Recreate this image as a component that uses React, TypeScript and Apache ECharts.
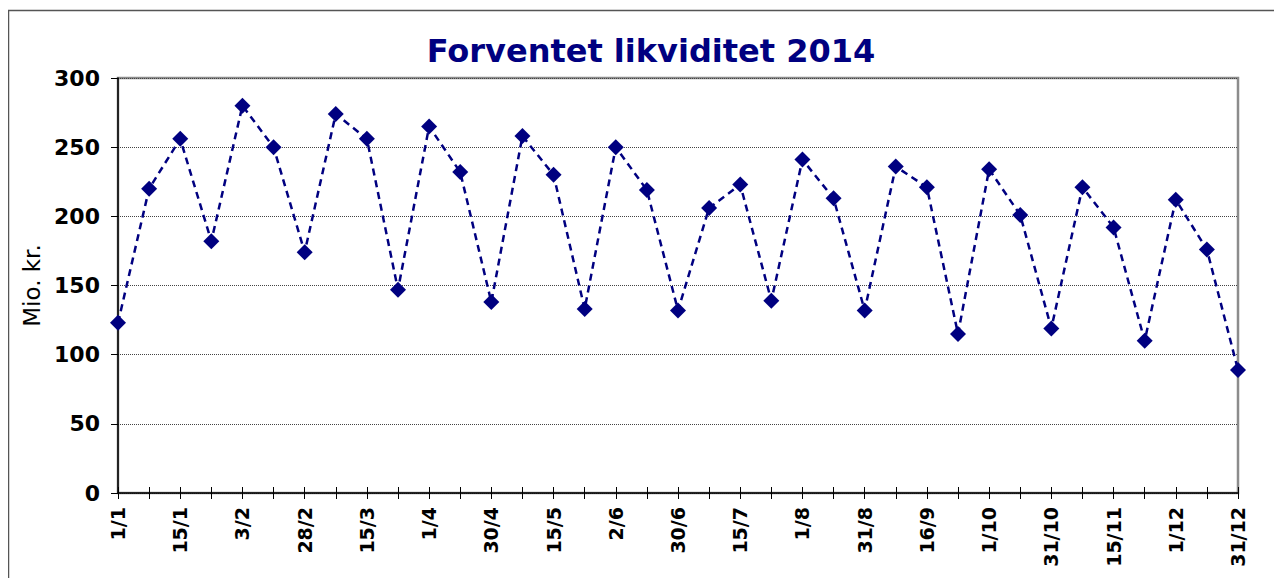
import React, { useEffect, useRef } from "react";
import * as echarts from "echarts";

const tickLabels = ["1/1", "15/1", "3/2", "28/2", "15/3", "1/4", "30/4", "15/5", "2/6", "30/6", "15/7", "1/8", "31/8", "16/9", "1/10", "31/10", "15/11", "1/12", "31/12"];

const values = [
  123, 220, 256, 182, 280, 250, 174, 274, 256, 147,
  265, 232, 138, 258, 230, 133, 250, 219, 132, 206,
  223, 139, 241, 213, 132, 236, 221, 115, 234, 201,
  119, 221, 192, 110, 212, 176, 89,
];

const yTicks = [0, 50, 100, 150, 200, 250, 300];

const categories: string[] = [];
tickLabels.forEach((l, i) => {
  categories.push(l);
  if (i < tickLabels.length - 1) categories.push("");
});

const FONT = "'DejaVu Sans', Verdana, sans-serif";

export default function App() {
  const ref = useRef<HTMLDivElement>(null);
  useEffect(() => {
    if (!ref.current) return;
    const chart = echarts.init(ref.current, null, { renderer: "svg" });
    chart.setOption({
      animation: false,
      backgroundColor: "#ffffff",
      title: {
        text: "Forventet likviditet 2014",
        left: 638,
        top: 22,
        textAlign: "center",
        textStyle: { fontFamily: FONT, fontWeight: "bold", fontSize: 32, color: "#000080" },
      },
      graphic: [
        {
          type: "rect",
          shape: { x: 0.5, y: 2.5, width: 1400, height: 700 },
          style: { fill: "none", stroke: "#555", lineWidth: 1.5 },
          silent: true,
        },
      ],
      grid: {
        left: 110,
        right: 44,
        top: 70,
        height: 415,
        show: true,
        borderColor: "#8c8c8c",
        borderWidth: 2.5,
      },
      xAxis: [
        {
          type: "category",
          data: categories,
          boundaryGap: false,
          axisLine: { show: true, lineStyle: { color: "#000", width: 1.5 } },
          axisTick: { show: true, interval: 0, length: 6, lineStyle: { color: "#000", width: 1 } },
          axisLabel: {
            interval: 0,
            rotate: 90,
            margin: 14,
            fontFamily: FONT,
            fontWeight: "bold",
            fontSize: 19,
            color: "#000",
          },
          splitLine: { show: false },
        },
        {
          type: "category",
          data: categories,
          boundaryGap: false,
          position: "bottom",
          axisLine: { show: false },
          axisTick: { show: true, inside: true, interval: 0, length: 6, lineStyle: { color: "#000", width: 1 } },
          axisLabel: { show: false },
          splitLine: { show: false },
        },
      ],
      yAxis: {
        type: "value",
        min: yTicks[0],
        max: yTicks[yTicks.length - 1],
        interval: 50,
        name: "Mio. kr.",
        nameLocation: "middle",
        nameGap: 74,
        nameTextStyle: { fontFamily: FONT, fontSize: 23, color: "#000" },
        axisLine: { show: true, lineStyle: { color: "#000", width: 1.5 } },
        axisTick: { show: true, length: 7, lineStyle: { color: "#000" } },
        axisLabel: {
          margin: 18,
          fontFamily: FONT,
          fontWeight: "bold",
          fontSize: 22,
          color: "#000",
        },
        splitLine: { show: true, lineStyle: { color: "#444", type: "dotted", width: 1 } },
      },
      series: [
        {
          type: "line",
          data: values,
          symbol: "diamond",
          symbolSize: 16,
          itemStyle: { color: "#000080" },
          lineStyle: { color: "#000080", width: 2.5, type: [7, 5] },
        },
      ],
    });
    return () => chart.dispose();
  }, []);
  return <div ref={ref} style={{ width: 1274, height: 570 }} />;
}
